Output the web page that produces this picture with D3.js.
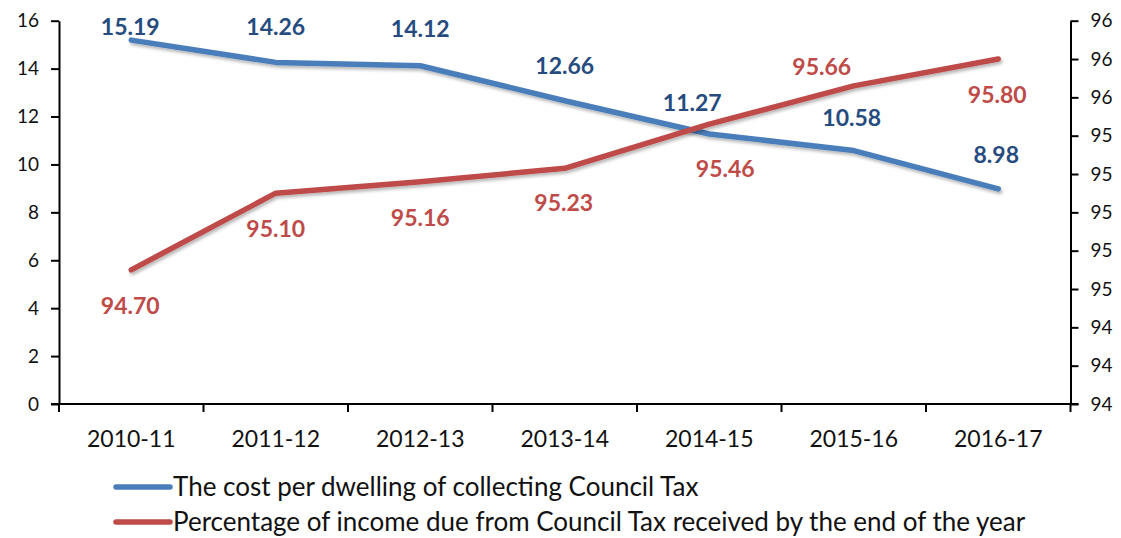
<!DOCTYPE html>
<html>
<head>
<meta charset="utf-8">
<script src="https://cdn.jsdelivr.net/npm/d3@7"></script>
<style>
  html, body { margin: 0; padding: 0; background: #fff; }
  svg { display: block; font-family: Lato, "Noto Sans", sans-serif; }
</style>
</head>
<body>
<svg id="chart" width="1121" height="538"></svg>
<script>
// Council Tax collection: cost per dwelling vs. share of income collected
const years = ["2010-11", "2011-12", "2012-13", "2013-14", "2014-15", "2015-16", "2016-17"];
const costPerDwelling = [15.19, 14.26, 14.12, 12.66, 11.27, 10.58, 8.98];
const pctCollected = [94.70, 95.10, 95.16, 95.23, 95.46, 95.66, 95.80];
const leftTicks = [0, 2, 4, 6, 8, 10, 12, 14, 16];
const rightTicks = [94, 94.2, 94.4, 94.6, 94.8, 95, 95.2, 95.4, 95.6, 95.8, 96];
const seriesNames = [
  "The cost per dwelling of collecting Council Tax",
  "Percentage of income due from Council Tax received by the end of the year"
];

// label placement relative to each point (px)
const costLabelShift = [[-1, -13], [0, -35], [0, -37], [0, -35], [-17, -31], [-2, -33], [-2, -34]];
const pctLabelShift = [[-1, 36], [0, 36], [0, 36], [-1, 35], [16, 45], [-32, -19], [-1, 36]];

const blue = "#4A7EBB", red = "#BE4B48";
const blueText = "#264B7E", redText = "#BE4B48";

const svg = d3.select("#chart");
const plotLeft = 59, plotRight = 1070.5, plotTop = 20.7, plotBottom = 404;

const x = d3.scaleBand().domain(years).range([plotLeft, plotRight]).paddingInner(0).paddingOuter(0);
const yL = d3.scaleLinear().domain([0, 16]).range([plotBottom, plotTop]);
const yR = d3.scaleLinear().domain([94, 96]).range([plotBottom, plotTop]);

const defs = svg.append("defs");
const f = defs.append("filter").attr("id", "shadow").attr("x", "-5%").attr("y", "-20%").attr("width", "110%").attr("height", "140%");
f.append("feDropShadow").attr("dx", 1.5).attr("dy", 2.5).attr("stdDeviation", 1.6)
  .attr("flood-color", "#000").attr("flood-opacity", 0.28);

const cx = d => x(d) + x.bandwidth() / 2;

// axes
const axisStyle = g => {
  g.select(".domain").attr("stroke", "#000").attr("stroke-width", 2);
  g.selectAll(".tick line").attr("stroke", "#000").attr("stroke-width", 2);
  g.selectAll(".tick text").attr("fill", "#111").style("font-family", "Lato, sans-serif");
};

const gL = svg.append("g").attr("transform", `translate(${plotLeft},0)`)
  .call(d3.axisLeft(yL).tickValues(leftTicks).tickSize(8).tickSizeOuter(0).tickPadding(12).tickFormat(d3.format("d")))
  .call(axisStyle);
gL.selectAll(".tick text").style("font-size", "19px");

const gR = svg.append("g").attr("transform", `translate(${plotRight},0)`)
  .call(d3.axisRight(yR).tickValues(rightTicks).tickSize(8).tickSizeOuter(0).tickPadding(12).tickFormat(d3.format(".0f")))
  .call(axisStyle);
gR.selectAll(".tick text").style("font-size", "19px");

// category boundaries carry the x-axis ticks
const gX = svg.append("g").attr("transform", `translate(0,${plotBottom})`);
gX.append("line").attr("x1", plotLeft - 8).attr("x2", plotRight + 8).attr("stroke", "#000").attr("stroke-width", 2);
const bounds = years.map(d => x(d)).concat([plotRight]);
gX.selectAll("line.tk").data(bounds).join("line").attr("class", "tk")
  .attr("x1", d => d).attr("x2", d => d).attr("y1", 0).attr("y2", 8)
  .attr("stroke", "#000").attr("stroke-width", 2);
gX.selectAll("text").data(years).join("text")
  .attr("x", d => cx(d)).attr("y", 43)
  .attr("text-anchor", "middle").attr("fill", "#111")
  .style("font-size", "23px").text(d => d);

// series lines
const lineL = d3.line().x((d, i) => cx(years[i])).y(d => yL(d));
const lineR = d3.line().x((d, i) => cx(years[i])).y(d => yR(d));

svg.append("path").datum(costPerDwelling).attr("d", lineL)
  .attr("fill", "none").attr("stroke", blue).attr("stroke-width", 5.5)
  .attr("stroke-linejoin", "round").attr("stroke-linecap", "round").attr("filter", "url(#shadow)");
svg.append("path").datum(pctCollected).attr("d", lineR)
  .attr("fill", "none").attr("stroke", red).attr("stroke-width", 5.5)
  .attr("stroke-linejoin", "round").attr("stroke-linecap", "round").attr("filter", "url(#shadow)");

// data labels
svg.append("g").selectAll("text").data(costPerDwelling).join("text")
  .attr("x", (d, i) => cx(years[i]) + costLabelShift[i][0])
  .attr("y", (d, i) => yL(d) + costLabelShift[i][1])
  .attr("dy", "0.35em").attr("text-anchor", "middle")
  .attr("fill", blueText).style("font-size", "23px").style("font-weight", 700)
  .text(d => d.toFixed(2));
svg.append("g").selectAll("text").data(pctCollected).join("text")
  .attr("x", (d, i) => cx(years[i]) + pctLabelShift[i][0])
  .attr("y", (d, i) => yR(d) + pctLabelShift[i][1])
  .attr("dy", "0.35em").attr("text-anchor", "middle")
  .attr("fill", redText).style("font-size", "23px").style("font-weight", 700)
  .text(d => d.toFixed(2));

// legend
const legend = svg.append("g");
const legendRows = [{ name: seriesNames[0], color: blue, y: 487 }, { name: seriesNames[1], color: red, y: 522 }];
legendRows.forEach(r => {
  legend.append("line").attr("x1", 116).attr("x2", 170).attr("y1", r.y).attr("y2", r.y)
    .attr("stroke", r.color).attr("stroke-width", 5.5).attr("stroke-linecap", "round");
  legend.append("text").attr("x", 173).attr("y", r.y).attr("dy", "0.35em")
    .attr("fill", "#111").style("font-size", "26px").text(r.name);
});
</script>
</body>
</html>
